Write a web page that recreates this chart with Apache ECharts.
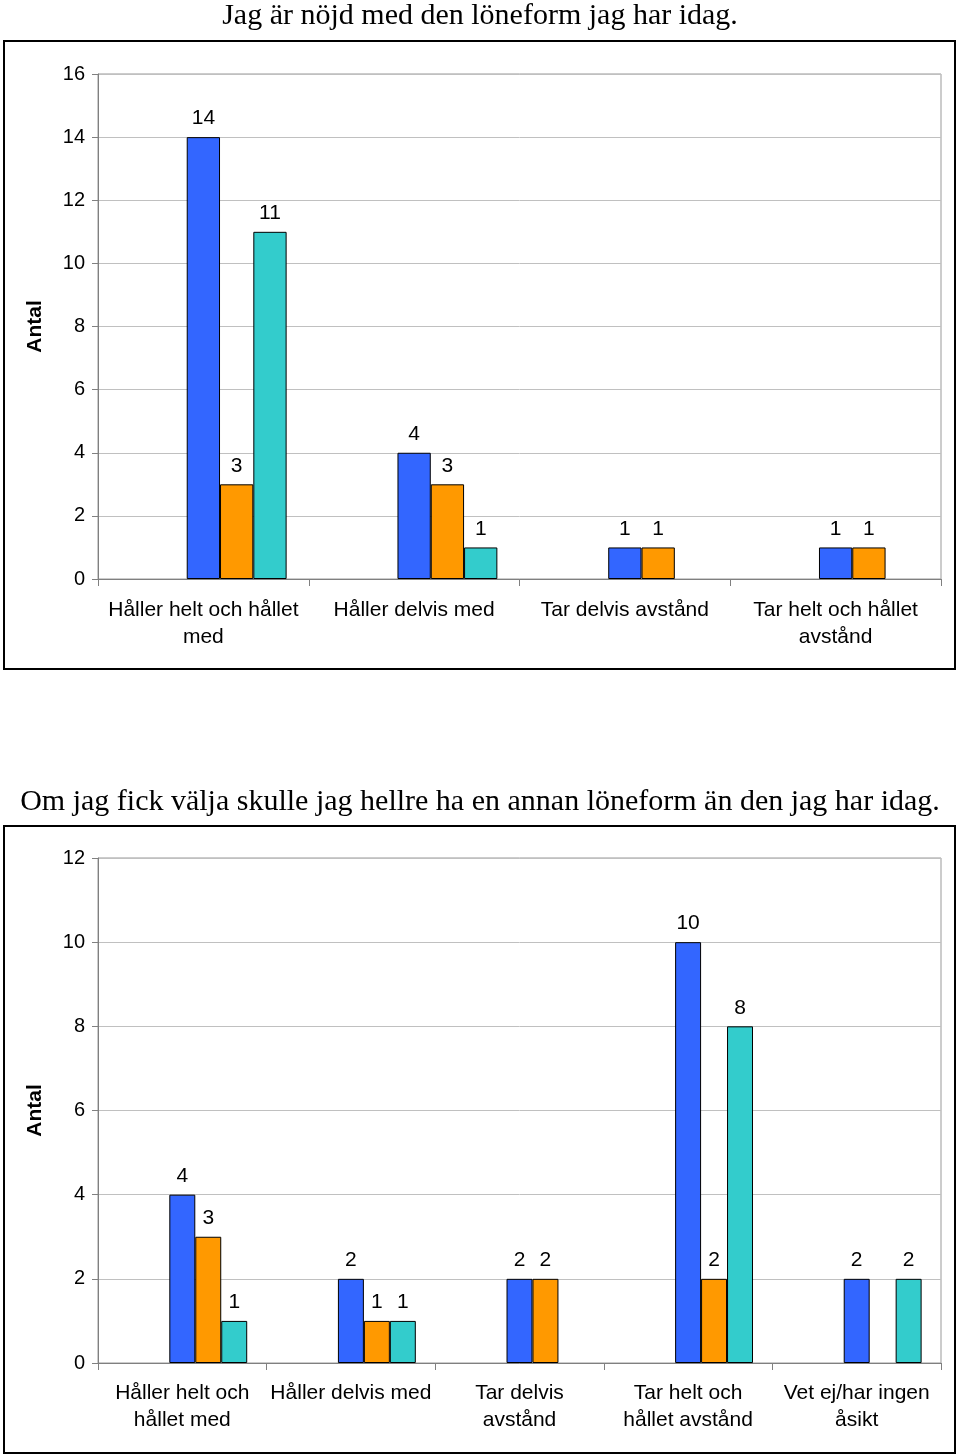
<!DOCTYPE html>
<html><head><meta charset="utf-8">
<script src="https://cdn.jsdelivr.net/npm/echarts@6/dist/echarts.min.js"></script>
<style>html,body{margin:0;padding:0;background:#fff}#c{width:960px;height:1456px}</style>
</head><body><div id="c"></div>
<script>
const title1 = 'Jag är nöjd med den löneform jag har idag.';
const title2 = 'Om jag fick välja skulle jag hellre ha en annan löneform än den jag har idag.';
const yName = 'Antal';
const categories1 = ['Håller helt och hållet\nmed', 'Håller delvis med', 'Tar delvis avstånd', 'Tar helt och hållet\navstånd'];
const blue1 = [14, 4, 1, 1];
const orange1 = [3, 3, 1, 1];
const teal1 = [11, 1, null, null];
const categories2 = ['Håller helt och\nhållet med', 'Håller delvis med', 'Tar delvis\navstånd', 'Tar helt och\nhållet avstånd', 'Vet ej/har ingen\nåsikt'];
const blue2 = [4, 2, 2, 10, 2];
const orange2 = [3, 1, 2, 2, null];
const teal2 = [1, 1, null, 8, 2];
const emptySeries = [];

const FONT = 'Liberation Sans, Arial, sans-serif';
const SERIF = 'Liberation Serif, Times New Roman, serif';
const colors = ['#3366FF', '#FF9900', '#33CCCC'];
const chart = echarts.init(document.getElementById('c'), null, {renderer: 'canvas'});

function bars(data, color, idx) {
  return {
    type: 'bar', xAxisIndex: idx, yAxisIndex: idx, data: data,
    barGap: 0, barCategoryGap: idx === 0 ? '21%' : '23%',
    itemStyle: {color: color, borderColor: '#000', borderWidth: 1},
    label: {show: true, position: 'top', distance: 8, color: '#000', fontFamily: FONT, fontSize: 21},
    silent: true, animation: false
  };
}
function placeholder(idx) {
  return {type: 'bar', xAxisIndex: idx, yAxisIndex: idx, data: emptySeries, barGap: 0,
    barCategoryGap: idx === 0 ? '21%' : '23%', animation: false};
}
function xAxis(idx, cats, margin) {
  return {
    type: 'category', gridIndex: idx, data: cats,
    axisLine: {lineStyle: {color: '#808080', width: 1}},
    axisTick: {show: true, length: 7, lineStyle: {color: '#808080'}},
    axisLabel: {color: '#000', fontFamily: FONT, fontSize: 21, lineHeight: 27, margin: margin, interval: 0}
  };
}
function yAxis(idx, max) {
  return {
    type: 'value', gridIndex: idx, min: 0, max: max, interval: 2,
    name: yName, nameLocation: 'middle', nameRotate: 90, nameGap: 52,
    nameTextStyle: {color: '#000', fontFamily: FONT, fontSize: 21, fontWeight: 'bold'},
    axisLine: {show: true, lineStyle: {color: '#808080'}},
    axisTick: {show: true, length: 6, lineStyle: {color: '#808080'}},
    axisLabel: {color: '#000', fontFamily: FONT, fontSize: 20, margin: 13},
    splitLine: {show: true, lineStyle: {color: '#c0c0c0', width: 1}}
  };
}

chart.setOption({
  animation: false,
  title: [
    {text: title1, left: 'center', top: -4, textStyle: {fontFamily: SERIF, fontWeight: 'normal', fontSize: 30, color: '#000'}},
    {text: title2, left: 'center', top: 782, textStyle: {fontFamily: SERIF, fontWeight: 'normal', fontSize: 30, color: '#000'}}
  ],
  graphic: [
    {type: 'rect', shape: {x: 4, y: 41, width: 951, height: 628}, style: {fill: 'none', stroke: '#000', lineWidth: 2}, silent: true},
    {type: 'rect', shape: {x: 4, y: 826, width: 951, height: 627}, style: {fill: 'none', stroke: '#000', lineWidth: 2}, silent: true}
  ],
  grid: [
    {left: 98, right: 19, top: 74, height: 505, show: true, borderColor: '#999', borderWidth: 1, backgroundColor: 'transparent'},
    {left: 98, right: 19, top: 858, height: 505, show: true, borderColor: '#999', borderWidth: 1, backgroundColor: 'transparent'}
  ],
  xAxis: [xAxis(0, categories1, 18), xAxis(1, categories2, 17)],
  yAxis: [yAxis(0, 16), yAxis(1, 12)],
  series: [
    placeholder(0), placeholder(0),
    bars(blue1, colors[0], 0), bars(orange1, colors[1], 0), bars(teal1, colors[2], 0),
    placeholder(1), placeholder(1),
    bars(blue2, colors[0], 1), bars(orange2, colors[1], 1), bars(teal2, colors[2], 1)
  ]
});
</script></body></html>
